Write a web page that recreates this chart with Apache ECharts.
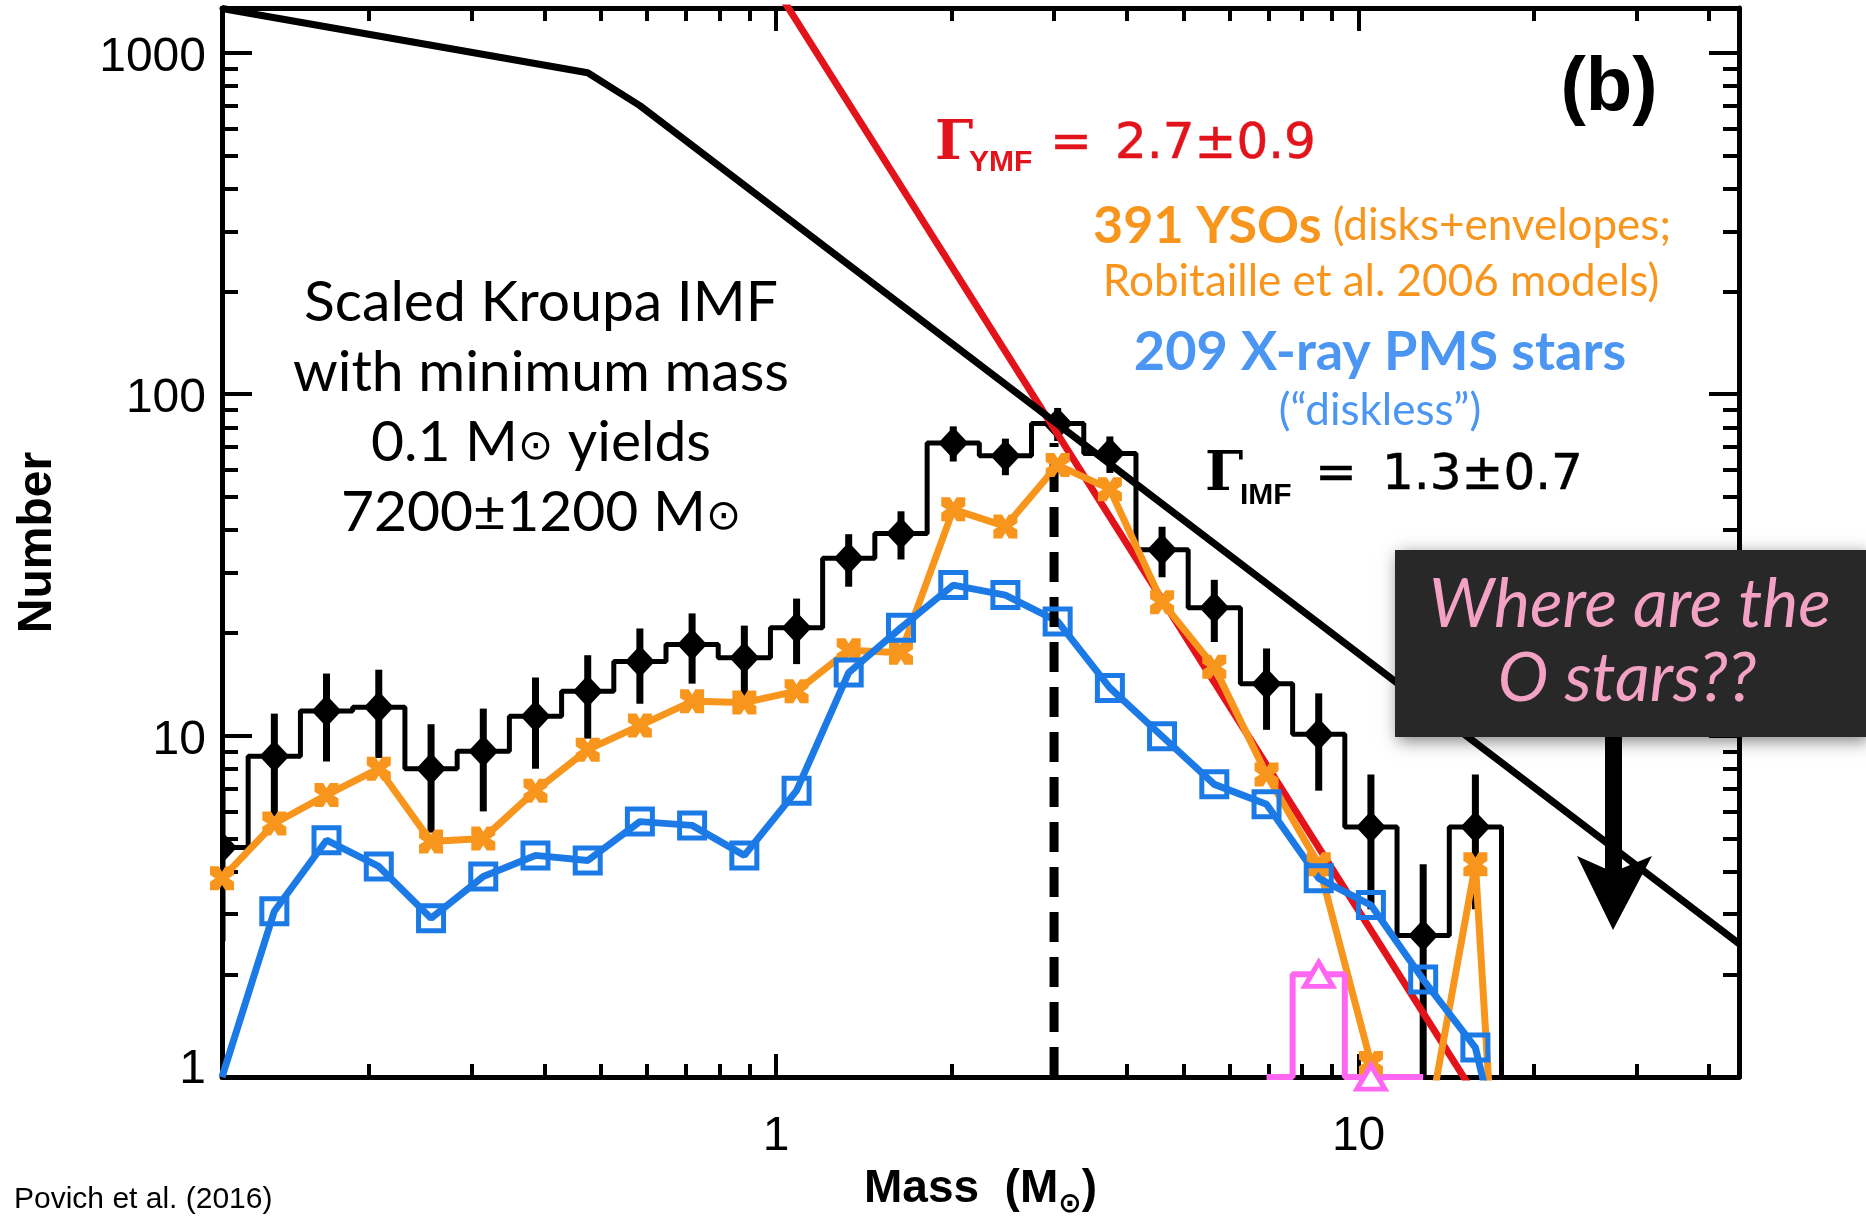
<!DOCTYPE html>
<html><head><meta charset="utf-8">
<script src="https://cdn.jsdelivr.net/npm/echarts@6/dist/echarts.min.js"></script>
<style>html,body{margin:0;padding:0;background:#fff}#c{width:1866px;height:1224px}</style>
</head><body><div id="c"></div>
<script>
// ---- axis ranges & ticks ----
const X_MIN = 0.1118, X_MAX = 45, Y_MIN = 1, Y_MAX = 1352;
const xMajorTicks = [1, 10];
const xMinorTicks = [0.2, 0.3, 0.4, 0.5, 0.6, 0.7, 0.8, 0.9, 2, 3, 4, 5, 6, 7, 8, 9, 20, 30, 40];
const yMajorTicks = [1, 10, 100, 1000];
const yMinorTicks = [2, 3, 4, 5, 6, 7, 8, 9, 20, 30, 40, 50, 60, 70, 80, 90, 200, 300, 400, 500, 600, 700, 800, 900];
const xTickLabels = [1, 10];
const yTickLabels = [1, 10, 100, 1000];

// ---- data: mass bin centres (Msun), bins -1 .. 24 ----
const massBins = [0.1118, 0.1375, 0.1690, 0.2078, 0.2555, 0.3141, 0.3861, 0.4747, 0.5834, 0.7172, 0.8817, 1.084, 1.332, 1.638, 2.014, 2.475, 3.043, 3.741, 4.598, 5.653, 6.950, 8.542, 10.50, 12.91, 15.87, 19.51];
// all stars (black histogram + diamonds), bins -1 .. 23
const allCounts = [4.7, 8.7, 11.8, 12.1, 8.0, 9.0, 11.4, 13.5, 16.5, 18.5, 16.9, 20.7, 33.1, 39.1, 72, 66, 82, 67, 35, 23.7, 14.2, 10.1, 5.4, 2.6, 5.4];
const allErrors = [2.2, 2.9, 3.4, 3.5, 2.8, 3.0, 3.4, 3.7, 4.1, 4.3, 4.1, 4.5, 5.8, 6.3, 8.5, 8.1, 9.1, 8.2, 5.9, 4.9, 3.8, 3.2, 2.3, 1.6, 2.3];
const emptyBinFloor = 0.01; // empty bin beyond the last one (falls below the axis floor)
// 391 YSOs (orange), bins -1 .. 24
const ysoCounts = [3.82, 5.53, 6.7, 8.0, 4.9, 5.0, 6.9, 9.1, 10.7, 12.6, 12.5, 13.5, 17.8, 17.5, 46, 41, 62, 52.7, 24.6, 15.9, 7.7, 4.2, 1.1, 0.6, 4.2, 0.013];
// 209 X-ray PMS stars (blue), bins -1 .. 24
const xrayCounts = [1.0, 3.06, 4.94, 4.14, 2.92, 3.87, 4.46, 4.31, 5.6, 5.46, 4.46, 6.9, 15.3, 20.7, 27.6, 25.8, 21.6, 13.8, 9.96, 7.2, 6.3, 3.82, 3.19, 1.93, 1.22, 0.28];
// massive stars (magenta), bins 19 .. 22
const pinkMass = [6.950, 8.542, 10.50, 12.91];
const pinkCounts = [1, 2, 1, 1];
const pinkMarked = [false, true, true, false];
// scaled Kroupa IMF (black line)
const imfMass = [0.1118, 0.4747, 0.5834, 45];
const imfN = [1348, 874, 700, 2.46];
// YMF fit (red line)
const ymfMass = [1.0, 16];
const ymfN = [1540, 0.864];
// peak mass (dashed)
const peakMass = [3.0, 3.0];
const peakN = [1, 72];

const RED = '#e3131b', ORANGE = '#f7951c', BLUE = '#1c7ae6', BLUE_TXT = '#4b95f3', PINK = '#ff66f2';
const tickFont = { fontFamily: 'Liberation Sans', fontSize: 48, color: '#000' };

function xAx(position, ticks, len, line, labels, extra) {
  return Object.assign({
    type: 'log', logBase: 10, min: X_MIN, max: X_MAX, position: position,
    axisLine: { show: line, onZero: false, lineStyle: { color: '#000', width: 5 } },
    axisTick: { show: true, inside: true, length: len, customValues: ticks, lineStyle: { color: '#000', width: 4 } },
    axisLabel: labels ? Object.assign({ show: true, customValues: xTickLabels, margin: 36, formatter: v => String(Math.round(v)) }, tickFont) : { show: false },
    splitLine: { show: false }, minorTick: { show: false }, minorSplitLine: { show: false }
  }, extra || {});
}
function yAx(position, ticks, len, line, labels, extra) {
  return Object.assign({
    type: 'log', logBase: 10, min: Y_MIN, max: Y_MAX, position: position,
    axisLine: { show: line, onZero: false, lineStyle: { color: '#000', width: 5 } },
    axisTick: { show: true, inside: true, length: len, customValues: ticks, lineStyle: { color: '#000', width: 4 } },
    axisLabel: labels ? {
      show: true, customValues: yTickLabels, margin: 16,
      formatter: v => Math.round(v) === 1 ? '{one|1}' : '{n|' + Math.round(v) + '}',
      rich: {
        n: Object.assign({ padding: [10, 0, 0, 0] }, tickFont),
        one: Object.assign({ padding: [0, 0, 14, 0] }, tickFont)
      }
    } : { show: false },
    splitLine: { show: false }, minorTick: { show: false }, minorSplitLine: { show: false }
  }, extra || {});
}

const histData = massBins.map((m, i) => [m, i < allCounts.length ? allCounts[i] : emptyBinFloor]);
const pointData = allCounts.map((c, i) => [massBins[i], c, c - allErrors[i], c + allErrors[i]]);
const ysoData = massBins.map((m, i) => [m, ysoCounts[i]]);
const xrayData = massBins.map((m, i) => i === 0 ? { value: [m, xrayCounts[i]], symbol: 'none' } : [m, xrayCounts[i]]);
const pinkData = pinkMass.map((m, i) => ({ value: [m, pinkCounts[i]], symbol: pinkMarked[i] ? 'triangle' : 'none' }));

const starPath = 'path://M0,0L3.6,0L5,2.2L6.4,0L10,0L10,3.6L7.8,5L10,6.4L10,10L6.4,10L5,7.8L3.6,10L0,10L0,6.4L2.2,5L0,3.6Z';

const option = {
  backgroundColor: '#fff',
  animation: false,
  grid: { left: 222, right: 127, top: 8, bottom: 139, containLabel: false },
  xAxis: [
    xAx('bottom', xMajorTicks, 23, true, true, {
      name: '{a|Mass  (M}{b|⊙}{a|)}', nameLocation: 'middle', nameGap: 80,
      nameTextStyle: { rich: {
        a: { fontFamily: 'Liberation Sans', fontWeight: 'bold', fontSize: 46, lineHeight: 60, color: '#000', verticalAlign: 'middle' },
        b: { fontFamily: 'DejaVu Sans', fontWeight: 'bold', fontSize: 28, lineHeight: 30, color: '#000', verticalAlign: 'bottom' }
      } }
    }),
    xAx('bottom', xMinorTicks, 13, false, false),
    xAx('top', xMajorTicks, 23, true, false),
    xAx('top', xMinorTicks, 13, false, false)
  ],
  yAxis: [
    yAx('left', yMajorTicks, 30, true, true, {
      name: 'Number', nameLocation: 'middle', nameGap: 160, nameRotate: 90,
      nameTextStyle: { fontFamily: 'Liberation Sans', fontWeight: 'bold', fontSize: 48, color: '#000' }
    }),
    yAx('left', yMinorTicks, 16, false, false),
    yAx('right', yMajorTicks, 30, true, false),
    yAx('right', yMinorTicks, 16, false, false)
  ],
  series: [
    { name: 'All stars histogram', type: 'line', step: 'middle', data: histData, symbol: 'none', clip: true,
      lineStyle: { color: '#000', width: 5 } },
    { name: 'All stars', type: 'custom', data: pointData, clip: true, encode: { x: 0, y: [1, 2, 3] },
      renderItem: function (params, api) {
        const x = api.value(0);
        const p = api.coord([x, api.value(1)]);
        const p1 = api.coord([x, api.value(2)]);
        const p2 = api.coord([x, api.value(3)]);
        return { type: 'group', children: [
          { type: 'line', shape: { x1: p1[0], y1: p1[1], x2: p2[0], y2: p2[1] }, style: { stroke: '#000', lineWidth: 7 } },
          { type: 'polygon', shape: { points: [[p[0], p[1] - 16], [p[0] + 15, p[1]], [p[0], p[1] + 16], [p[0] - 15, p[1]]] }, style: { fill: '#000' } }
        ] };
      } },
    { name: 'YMF fit', type: 'line', data: ymfMass.map((m, i) => [m, ymfN[i]]), symbol: 'none', clip: true,
      lineStyle: { color: RED, width: 7 } },
    { name: 'Kroupa IMF', type: 'line', data: imfMass.map((m, i) => [m, imfN[i]]), symbol: 'none', clip: true,
      lineStyle: { color: '#000', width: 7 } },
    { name: '391 YSOs', type: 'line', data: ysoData, symbol: starPath, symbolSize: 24, clip: true,
      lineStyle: { color: ORANGE, width: 7 }, itemStyle: { color: ORANGE } },
    { name: '209 X-ray PMS stars', type: 'line', data: xrayData, symbol: 'rect', symbolSize: 25, clip: true,
      lineStyle: { color: BLUE, width: 7 }, itemStyle: { color: 'rgba(255,255,255,0)', borderColor: BLUE, borderWidth: 5 } },
    { name: 'Massive stars', type: 'line', step: 'middle', data: pinkData, symbolSize: [28, 24], clip: true,
      lineStyle: { color: PINK, width: 6 }, itemStyle: { color: '#fff', borderColor: PINK, borderWidth: 5 } },
    { name: 'Peak', type: 'line', data: peakMass.map((m, i) => [m, peakN[i]]), symbol: 'none', clip: true,
      lineStyle: { color: '#000', width: 9, type: [30, 15] } }
  ],
  graphic: [
    { type: 'text', x: 541, y: 408, z: 50, style: { text: 'Scaled Kroupa IMF\nwith minimum mass\n0.1 M{s|⊙} yields\n7200±1200 M{s|⊙}', fontFamily: 'Lato', fontSize: 57, lineHeight: 70, fill: '#000', align: 'center', verticalAlign: 'middle',
      rich: { s: { fontFamily: 'DejaVu Sans', fontSize: 42, lineHeight: 70, fill: '#000', padding: [10, 0, 0, 0] } } } },
    { type: 'text', x: 1609, y: 89, z: 50, style: { text: '(b)', fontFamily: 'Liberation Sans', fontWeight: 'bold', fontSize: 76, fill: '#000', align: 'center', verticalAlign: 'middle' } },
    { type: 'text', x: 935, y: 145, z: 50, style: { text: 'Γ', fontFamily: 'DejaVu Serif', fontWeight: 'bold', fontSize: 54, fill: RED, align: 'left', verticalAlign: 'middle' } },
    { type: 'text', x: 969, y: 163, z: 50, style: { text: 'YMF', fontFamily: 'Liberation Sans', fontWeight: 'bold', fontSize: 30, fill: RED, align: 'left', verticalAlign: 'middle' } },
    { type: 'text', x: 1071, y: 145, z: 50, style: { text: '=', fontFamily: 'DejaVu Sans', fontSize: 50, fill: RED, stroke: RED, lineWidth: 0.5, align: 'center', verticalAlign: 'middle' } },
    { type: 'text', x: 1115, y: 145, z: 50, style: { text: '2.7±0.9', fontFamily: 'DejaVu Sans', fontSize: 50, fill: RED, stroke: RED, lineWidth: 0.5, align: 'left', verticalAlign: 'middle' } },
    { type: 'text', x: 1382, y: 226, z: 50, style: { text: '{b|391 YSOs}{n| (disks+envelopes;}', align: 'center', verticalAlign: 'middle', rich: {
        b: { fontFamily: 'Lato', fontWeight: 'bold', fontSize: 52, fill: ORANGE, lineHeight: 56 },
        n: { fontFamily: 'Lato', fontSize: 44, fill: ORANGE, lineHeight: 56 } } } },
    { type: 'text', x: 1381, y: 282, z: 50, style: { text: 'Robitaille et al. 2006 models)', fontFamily: 'Lato', fontSize: 44, fill: ORANGE, align: 'center', verticalAlign: 'middle' } },
    { type: 'text', x: 1380, y: 353, z: 50, style: { text: '209 X-ray PMS stars', fontFamily: 'Lato', fontWeight: 'bold', fontSize: 54, fill: BLUE_TXT, align: 'center', verticalAlign: 'middle' } },
    { type: 'text', x: 1380, y: 411, z: 50, style: { text: '(“diskless”)', fontFamily: 'Lato', fontSize: 44, fill: BLUE_TXT, align: 'center', verticalAlign: 'middle' } },
    { type: 'text', x: 1205, y: 476, z: 50, style: { text: 'Γ', fontFamily: 'DejaVu Serif', fontWeight: 'bold', fontSize: 54, fill: '#000', align: 'left', verticalAlign: 'middle' } },
    { type: 'text', x: 1240, y: 496, z: 50, style: { text: 'IMF', fontFamily: 'Liberation Sans', fontWeight: 'bold', fontSize: 30, fill: '#000', align: 'left', verticalAlign: 'middle' } },
    { type: 'text', x: 1336, y: 476, z: 50, style: { text: '=', fontFamily: 'DejaVu Sans', fontSize: 50, fill: '#000', stroke: '#000', lineWidth: 0.5, align: 'center', verticalAlign: 'middle' } },
    { type: 'text', x: 1382, y: 476, z: 50, style: { text: '1.3±0.7', fontFamily: 'DejaVu Sans', fontSize: 50, fill: '#000', stroke: '#000', lineWidth: 0.5, align: 'left', verticalAlign: 'middle' } },
    { type: 'rect', z: 100, shape: { x: 1395, y: 550, width: 471, height: 187 }, style: { fill: '#282828', shadowBlur: 16, shadowColor: 'rgba(0,0,0,0.5)', shadowOffsetX: 3, shadowOffsetY: 4 } },
    { type: 'text', x: 1630, y: 605, z: 101, style: { text: 'Where are the', fontFamily: 'Lato', fontStyle: 'italic', fontSize: 68, fill: '#f3a2c3', align: 'center', verticalAlign: 'middle' } },
    { type: 'text', x: 1627, y: 679, z: 101, style: { text: 'O stars??', fontFamily: 'Lato', fontStyle: 'italic', fontSize: 68, fill: '#f3a2c3', align: 'center', verticalAlign: 'middle' } },
    { type: 'rect', z: 100, shape: { x: 1605, y: 737, width: 17, height: 136 }, style: { fill: '#000' } },
    { type: 'polygon', z: 100, shape: { points: [[1577, 856], [1613, 872], [1652, 856], [1613, 930]] }, style: { fill: '#000' } },
    { type: 'text', x: 14, y: 1200, z: 50, style: { text: 'Povich et al. (2016)', fontFamily: 'Liberation Sans', fontSize: 30, fill: '#000', align: 'left', verticalAlign: 'middle' } }
  ]
};
const chart = echarts.init(document.getElementById('c'), null, { renderer: 'canvas', width: 1866, height: 1224 });
chart.setOption(option);
</script>
</body></html>
